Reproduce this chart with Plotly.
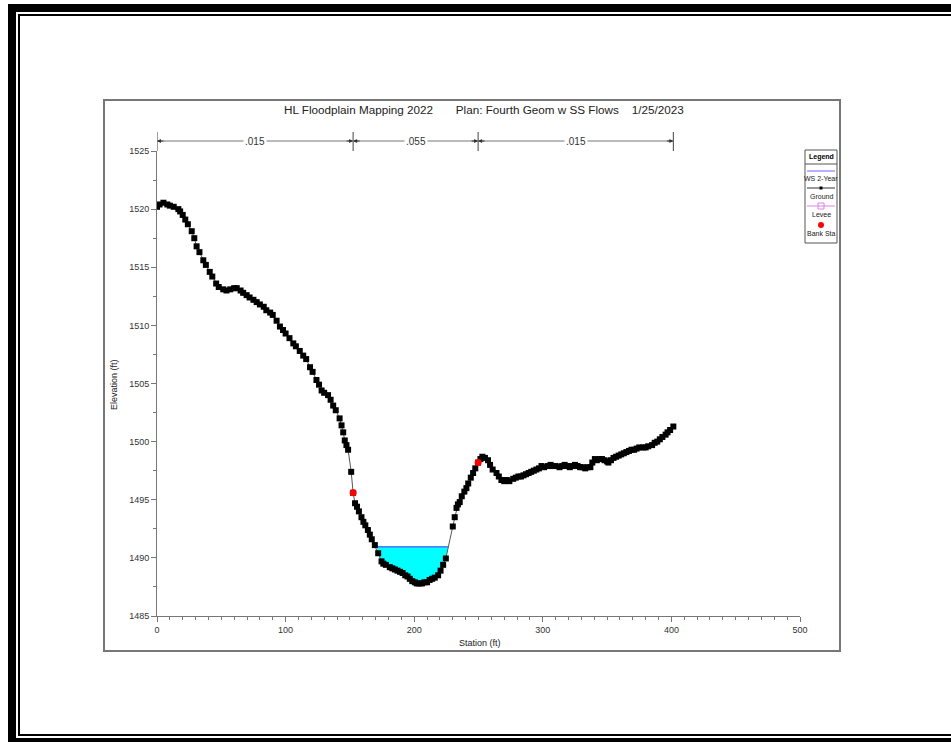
import plotly.graph_objects as go

# ---------------- data ----------------
station = [0, 2, 5, 8, 10, 13, 16.6, 18, 20, 22, 24, 27, 29, 30.8, 33, 36, 38, 41, 43, 46, 48,
           51.5, 54, 57, 60, 62, 65, 67, 69.7, 72, 75, 77.5, 80, 83, 85, 88, 90, 93, 95.6, 98,
           100, 103, 106, 108, 111, 113.7, 116, 119, 121, 124, 126, 128, 130, 133, 135, 137, 139,
           142, 143.5, 144.8, 146, 147.3, 148.6, 151, 152.5, 154, 155.5, 157, 159, 160.5, 162,
           164, 165.5, 167, 169.4, 172, 174.6, 176, 178, 181, 183, 185, 187, 189, 191, 193, 194.8,
           196.6, 198.5, 200.5, 202, 204, 206, 208, 210, 212, 214, 216, 218.6, 220.5, 222.5, 224.6,
           230, 231.5, 232.9, 234, 235.4, 237, 239, 240.6, 242, 244, 245.8, 247.5, 249.7, 251.5,
           253, 255, 257.4, 259, 261, 264, 265.8, 267.8, 270, 272, 274, 277, 279, 281, 283, 285,
           287, 289, 291, 293, 295, 297, 299, 301, 304, 306, 308, 310, 313, 315, 317, 319, 321,
           323, 325, 327, 329, 331, 333, 335, 337, 338.5, 340.5, 342, 344, 346, 348, 350, 351,
           353, 355, 357, 359, 361, 363, 365, 367, 369, 371, 373, 375, 378, 380, 382, 385, 387,
           389, 391, 393, 395.5, 397, 399, 401.5]
elevation = [1520.2, 1520.4, 1520.55, 1520.4, 1520.3, 1520.2, 1520.0, 1519.8, 1519.5, 1519.1,
             1518.7, 1518.1, 1517.5, 1516.8, 1516.3, 1515.6, 1515.2, 1514.6, 1514.2, 1513.6,
             1513.3, 1513.1, 1513.0, 1513.1, 1513.2, 1513.2, 1513.0, 1512.8, 1512.6, 1512.4,
             1512.2, 1512.0, 1511.8, 1511.6, 1511.3, 1511.1, 1510.9, 1510.4, 1509.9, 1509.6,
             1509.3, 1508.9, 1508.45, 1508.2, 1507.8, 1507.4, 1507.1, 1506.4, 1506.0, 1505.3,
             1504.9, 1504.4, 1504.2, 1504.0, 1503.6, 1503.1, 1502.7, 1502.0, 1501.4, 1500.8,
             1500.1, 1499.7, 1499.3, 1497.4, 1495.6, 1494.7, 1494.4, 1494.0, 1493.5, 1493.1,
             1492.8, 1492.4, 1492.0, 1491.6, 1491.1, 1490.4, 1489.7, 1489.5, 1489.4, 1489.2,
             1489.1, 1489.0, 1488.9, 1488.8, 1488.7, 1488.5, 1488.4, 1488.2, 1488.0, 1487.9,
             1487.8, 1487.8, 1487.8, 1487.9, 1487.9, 1488.1, 1488.2, 1488.3, 1488.5, 1488.9,
             1489.4, 1489.95, 1492.7, 1493.5, 1494.3, 1494.6, 1494.8, 1495.3, 1495.7, 1496.0,
             1496.4, 1496.9, 1497.3, 1497.7, 1498.2, 1498.5, 1498.7, 1498.6, 1498.4, 1498.0,
             1497.6, 1497.3, 1497.0, 1496.7, 1496.6, 1496.7, 1496.6, 1496.8, 1496.9, 1497.0,
             1497.0, 1497.1, 1497.2, 1497.3, 1497.4, 1497.5, 1497.6, 1497.7, 1497.9, 1497.8,
             1497.9, 1498.0, 1497.9, 1497.9, 1497.8, 1497.9, 1498.0, 1497.9, 1497.8, 1497.9,
             1498.0, 1497.9, 1497.8, 1497.8, 1497.7, 1497.8, 1497.8, 1498.2, 1498.5, 1498.4,
             1498.5, 1498.5, 1498.4, 1498.3, 1498.2, 1498.4, 1498.6, 1498.7, 1498.8, 1498.9,
             1499.0, 1499.1, 1499.2, 1499.3, 1499.3, 1499.4, 1499.5, 1499.5, 1499.5, 1499.6,
             1499.7, 1499.9, 1500.0, 1500.2, 1500.4, 1500.6, 1500.8, 1501.0, 1501.3, 1501.7]

bank_station = [152.5, 249.7]
bank_elev = [1495.6, 1498.2]
levee_station = [253]
levee_elev = [1498.7]

ws_elev = 1490.95
ws_left, ws_right = 170.7, 226.3

n_breaks = [0, 152.5, 249.7, 401.5]
n_values = [".015", ".055", ".015"]

x_ticks = [0, 100, 200, 300, 400, 500]
y_ticks = [1485, 1490, 1495, 1500, 1505, 1510, 1515, 1520, 1525]

title_text = ("HL Floodplain Mapping 2022" + "&nbsp;" * 7 +
              "Plan: Fourth Geom w SS Flows" + "&nbsp;" * 4 + "1/25/2023")

# ---------------- layout geometry (pixels) ----------------
W, H = 951, 742
L, R, T, B = 157, 800, 151, 616
FONT = "Arial, Liberation Sans, sans-serif"


def px(x):
    return (x - L) / (R - L)


def py(y):
    return (B - y) / (B - T)


fig = go.Figure()

# water fill polygon built from ground data
wx = [ws_left] + [s for s in station if ws_left < s < ws_right] + [ws_right]
wy = [ws_elev] + [e for s, e in zip(station, elevation) if ws_left < s < ws_right] + [ws_elev]
fig.add_trace(go.Scatter(x=wx, y=wy, fill="toself", fillcolor="#00FFFF", mode="none",
                         hoverinfo="skip", showlegend=False))
fig.add_trace(go.Scatter(x=[ws_left, ws_right], y=[ws_elev, ws_elev], mode="lines",
                         line=dict(color="#3333FF", width=1), name="WS 2-Year", showlegend=False))

# ground
fig.add_trace(go.Scatter(x=station, y=elevation, mode="lines+markers",
                         line=dict(color="#555555", width=1),
                         marker=dict(color="black", size=6, symbol="square"),
                         name="Ground", showlegend=False))
# levee
fig.add_trace(go.Scatter(x=levee_station, y=levee_elev, mode="markers",
                         marker=dict(color="rgba(0,0,0,0)", size=6, symbol="square-open",
                                     line=dict(color="#E060E0", width=1.5)),
                         name="Levee", showlegend=False))
# bank stations
fig.add_trace(go.Scatter(x=bank_station, y=bank_elev, mode="markers",
                         marker=dict(color="#FF0000", size=7, symbol="circle"),
                         name="Bank Sta", showlegend=False))

shapes = []
annotations = []


def ann(x, y, text, size=9, color="#222222", **kw):
    d = dict(x=x, y=y, xref="paper", yref="paper", text=text, showarrow=False,
             xanchor="center", yanchor="middle", font=dict(size=size, color=color, family=FONT))
    d.update(kw)
    annotations.append(d)


def prect(x0, y0, x1, y1, **kw):
    d = dict(type="rect", xref="paper", yref="paper", x0=px(x0), x1=px(x1), y0=py(y1), y1=py(y0))
    d.update(kw)
    shapes.append(d)


# outer frame
black = "black"
prect(8, 4, 16, 742, fillcolor=black, line=dict(width=0))
prect(8, 4, 951, 12, fillcolor=black, line=dict(width=0))
prect(8, 738, 951, 742, fillcolor=black, line=dict(width=0))
prect(18, 14, 20, 736, fillcolor=black, line=dict(width=0))
prect(18, 14, 951, 16, fillcolor=black, line=dict(width=0))
prect(18, 734, 951, 736, fillcolor=black, line=dict(width=0))

# chart frame
prect(104, 100, 840, 651, line=dict(color="#777777", width=2))

# n-value bar
n_y = py(141)
for b in n_breaks:
    shapes.append(dict(type="line", xref="x", yref="paper", x0=b, x1=b, y0=py(151), y1=py(132),
                       line=dict(color="#444444", width=1)))
for i in range(len(n_values)):
    a, b = n_breaks[i], n_breaks[i + 1]
    shapes.append(dict(type="line", xref="x", yref="paper", x0=a, x1=b, y0=n_y, y1=n_y,
                       line=dict(color="#777777", width=1)))
    annotations.append(dict(x=(a + b) / 2, y=n_y, xref="x", yref="paper", text=n_values[i],
                            showarrow=False, bgcolor="white", xanchor="center", yanchor="middle",
                            font=dict(size=10, color="#333333", family=FONT), borderpad=1))
    annotations.append(dict(x=a, y=n_y, xref="x", yref="paper", ax=8, ay=0, text="", showarrow=True,
                            arrowhead=2, arrowsize=0.8, arrowwidth=1, arrowcolor="#333333"))
    annotations.append(dict(x=b, y=n_y, xref="x", yref="paper", ax=-8, ay=0, text="", showarrow=True,
                            arrowhead=2, arrowsize=0.8, arrowwidth=1, arrowcolor="#333333"))

# title and axis titles
ann(px(484), py(109), title_text, size=11.7)
ann(px(480), py(643), "Station (ft)", size=9)
ann(px(114), py(385), "Elevation (ft)", size=9, textangle=-90)

# custom legend
lx0, lx1, lxc = 805, 837, 821
prect(lx0, 150, lx1, 243, line=dict(color="#555555", width=1), fillcolor="white")
shapes.append(dict(type="line", xref="paper", yref="paper", x0=px(lx0), x1=px(lx1), y0=py(164), y1=py(164),
                   line=dict(color="#555555", width=1)))
ann(px(lxc), py(157), "<b>Legend</b>", size=7, color="black")
leg_items = [("WS 2-Year", 171, 178, "#6666FF"), ("Ground", 188, 196, "#333333"),
             ("Levee", 206, 214, "#E080E0"), ("Bank Sta", None, 233, None)]
for name, ly, ty, col in leg_items:
    if ly is not None:
        shapes.append(dict(type="line", xref="paper", yref="paper", x0=px(lx0 + 2), x1=px(lx1 - 2),
                           y0=py(ly), y1=py(ly), line=dict(color=col, width=1)))
    ann(px(lxc), py(ty), name, size=7)
prect(819.5, 186.5, 822.5, 189.5, fillcolor="black", line=dict(width=0))
prect(818, 203, 824, 209, fillcolor="rgba(0,0,0,0)", line=dict(color="#E080E0", width=1))
shapes.append(dict(type="circle", xref="paper", yref="paper", x0=px(818), x1=px(824), y0=py(228), y1=py(222),
                   fillcolor="#FF0000", line=dict(width=0)))

fig.update_layout(
    width=W, height=H,
    margin=dict(l=L, r=W - R, t=T, b=H - B, pad=0),
    paper_bgcolor="white", plot_bgcolor="white",
    showlegend=False,
    shapes=shapes, annotations=annotations,
    font=dict(family=FONT, size=9, color="#333333"),
    xaxis=dict(range=[0, 500], tickvals=x_ticks, ticktext=[str(v) for v in x_ticks],
               showgrid=False, zeroline=False, showline=True, linecolor="#777777", linewidth=1,
               ticks="outside", ticklen=5, tickcolor="#777777",
               minor=dict(dtick=10, tick0=0, ticks="outside", ticklen=3, tickcolor="#777777"),
               tickfont=dict(size=9, color="#333333", family=FONT)),
    yaxis=dict(range=[1485, 1525], tickvals=y_ticks, ticktext=[str(v) for v in y_ticks],
               showgrid=False, zeroline=False, showline=True, linecolor="#777777", linewidth=1,
               ticks="outside", ticklen=5, tickcolor="#777777",
               minor=dict(dtick=2.5, tick0=1485, ticks="outside", ticklen=3, tickcolor="#777777"),
               tickfont=dict(size=9, color="#333333", family=FONT)),
)

fig.write_html("out.html", config={"displayModeBar": False},
               post_script="document.body.style.margin='0';")
